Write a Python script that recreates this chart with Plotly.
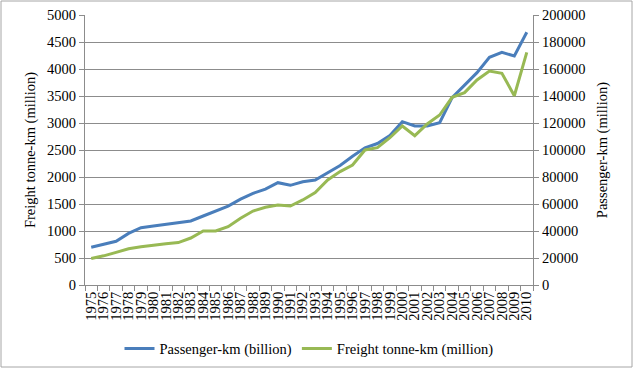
import plotly.graph_objects as go

years = [str(y) for y in range(1975, 2011)]
passenger = [700, 755, 810, 955, 1060, 1093, 1122, 1152, 1185, 1278, 1370, 1460,
             1590, 1698, 1775, 1895, 1846, 1913, 1944, 2075, 2212, 2385, 2540, 2620,
             2770, 3025, 2945, 2945, 3006, 3470, 3704, 3932, 4216, 4309, 4241, 4680]
freight = [19600, 21600, 24200, 26900, 28400, 29600, 30600, 31400, 34800, 40000,
           40000, 43200, 49400, 54800, 57600, 59200, 58500, 63000, 68400, 77800,
           84000, 88900, 100000, 101700, 109100, 117800, 110600, 119300, 125900,
           139000, 142500, 151900, 158500, 156800, 140200, 172300]

FAM = "Liberation Serif, Times New Roman, serif"
fs = 14.5
tf = dict(family=FAM, size=fs, color="#000000")
grid = "#8c8c8c"

fig = go.Figure()
fig.add_trace(go.Scatter(x=years, y=passenger, mode="lines", name="Passenger-km (billion)",
                         line=dict(color="#4a7ebb", width=3), yaxis="y"))
fig.add_trace(go.Scatter(x=years, y=freight, mode="lines", name="Freight tonne-km (million)",
                         line=dict(color="#98b954", width=3), yaxis="y2"))

fig.update_layout(
    width=636, height=372,
    margin=dict(l=85, r=103, t=15, b=87, autoexpand=False),
    paper_bgcolor="white", plot_bgcolor="white",
    font=tf,
    showlegend=True,
    legend=dict(orientation="h", x=0.5, xanchor="center", y=-0.235, yanchor="middle",
                font=tf, traceorder="normal"),
    xaxis=dict(type="category", tickangle=-90, showgrid=False, showline=True, dtick=1,
               linecolor=grid, linewidth=1, ticks="outside", tickson="boundaries",
               ticklen=5, tickcolor=grid, tickfont=tf, range=[-0.5, 35.5], automargin=False),
    yaxis=dict(range=[0, 5000], dtick=500, showgrid=True, gridcolor=grid, gridwidth=1,
               showline=True, linecolor=grid, ticks="outside", ticklen=5, tickcolor=grid,
               zeroline=False, tickfont=tf, tickformat="d", automargin=False,
               title=dict(text="Freight tonne-km (million)", font=tf, standoff=8)),
    yaxis2=dict(range=[0, 200000], dtick=20000, overlaying="y", side="right",
                showgrid=False, showline=True, linecolor=grid, ticks="outside", ticklen=5,
                tickcolor=grid, zeroline=False, tickfont=tf, tickformat="d", automargin=False,
                title=dict(text="Passenger-km (million)", font=tf, standoff=12)),
)

fig.add_shape(type="rect", xref="paper", yref="paper",
              x0=(1 - 85) / 448, x1=(632 - 85) / 448,
              y0=(285 - 367) / 270, y1=(285 - 1) / 270,
              line=dict(color="#a6a6a6", width=1), fillcolor="rgba(0,0,0,0)", layer="below")

fig.write_html("out.html")
